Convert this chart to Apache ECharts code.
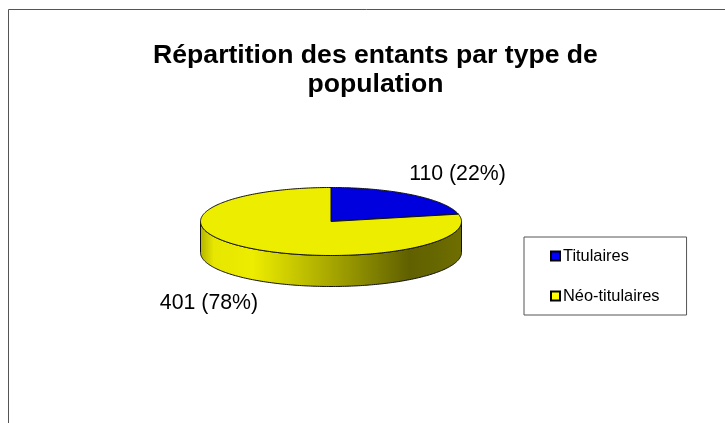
<!DOCTYPE html>
<html lang="fr">

<head>
    <meta charset="UTF-8">
    <title>Répartition des entants</title>
    <script src="https://cdn.jsdelivr.net/npm/echarts@6/dist/echarts.min.js"></script>
    <style>
        html, body { margin: 0; padding: 0; background: #fff; }
    </style>
</head>

<body>

    <div id="chart" style="width: 725px; height: 423px"></div>

    <script>
        var categories = ['Titulaires', 'Néo-titulaires'];
        var values = [110, 401];
        var colors = ['#0000DE', '#EDED00'];
        var legendColors = ['#0000FF', '#FFFF00'];
        var total = values[0] + values[1];

        // ellipse of the pie, ECharts has no flattened 3D pie so it goes through a custom series
        var cx = 331, cy = 221.5, rx = 130.5, ry = 34, depth = 31;

        function pt(a, dy) {
            // a in fraction of the turn, clockwise from 12 o'clock
            var t = a * Math.PI * 2;
            return [cx + rx * Math.sin(t), cy - ry * Math.cos(t) + (dy || 0)];
        }

        function arcPoints(a0, a1, dy) {
            var pts = [];
            var n = Math.ceil(Math.abs(a1 - a0) * 360);
            for (var i = 0; i <= n; i++) {
                pts.push(pt(a0 + (a1 - a0) * i / n, dy));
            }
            return pts;
        }

        var sideFill = {
            type: 'linear', global: true, x: cx - rx, y: 0, x2: cx + rx, y2: 0,
            colorStops: [
                { offset: 0, color: '#B4B400' },
                { offset: 0.05, color: '#E6E600' },
                { offset: 0.2, color: '#EDED00' },
                { offset: 0.8, color: '#606000' },
                { offset: 1, color: '#6E6E00' }
            ]
        };

        function renderSlice(idx) {
            return function (params, api) {
                var start = 0;
                for (var i = 0; i < idx; i++) start += values[i] / total;
                var end = start + api.value(0) / total;
                var children = [];

                // visible wall only on the lower half of the turn
                var s0 = Math.max(start, 0.25), s1 = Math.min(end, 0.75);
                if (s1 > s0) {
                    var wall = arcPoints(s0, s1, 0).concat(arcPoints(s1, s0, depth));
                    children.push({
                        type: 'polygon',
                        shape: { points: wall },
                        style: { fill: sideFill, stroke: '#111', lineWidth: 1 }
                    });
                }

                var top = [[cx, cy]].concat(arcPoints(start, end, 0));
                children.push({
                    type: 'polygon',
                    shape: { points: top },
                    style: { fill: colors[idx], stroke: '#111', lineWidth: 1 }
                });

                var pct = Math.round(api.value(0) / total * 100);
                children.push({
                    type: 'text',
                    style: {
                        text: api.value(0) + ' (' + pct + '%)',
                        x: labelPos[idx][0],
                        y: labelPos[idx][1],
                        align: 'center',
                        verticalAlign: 'middle',
                        fill: '#000',
                        font: '21.3px "Liberation Sans", Arial, sans-serif'
                    }
                });
                return { type: 'group', children: children };
            };
        }

        var labelPos = [[457.5, 174], [209, 303]];

        var chart = echarts.init(document.getElementById('chart'));
        chart.setOption({
            animation: false,
            backgroundColor: '#fff',
            title: {
                text: 'Répartition des entants par type de\npopulation',
                left: 370.5,
                top: 36,
                textAlign: 'center',
                textStyle: {
                    fontFamily: '"Liberation Sans", Arial, sans-serif',
                    fontSize: 26.6,
                    fontWeight: 'bold',
                    lineHeight: 29,
                    color: '#000'
                }
            },
            legend: {
                orient: 'vertical',
                left: 524,
                top: 237,
                padding: [11, 27, 11, 26],
                itemGap: 24,
                itemWidth: 9,
                itemHeight: 9,
                borderColor: '#555',
                borderWidth: 1,
                icon: 'rect',
                textStyle: {
                    fontFamily: '"Liberation Sans", Arial, sans-serif',
                    fontSize: 16.4,
                    color: '#000',
                    padding: [0, 0, 0, -2]
                },
                data: categories.map(function (name, i) {
                    return {
                        name: name,
                        itemStyle: { color: legendColors[i], borderColor: '#000', borderWidth: 2 }
                    };
                })
            },
            graphic: [{
                type: 'polyline',
                shape: { points: [[8.5, 423], [8.5, 9.5], [725, 9.5]] },
                style: { fill: 'none', stroke: '#555', lineWidth: 1 }
            }],
            series: categories.map(function (name, i) {
                return {
                    type: 'custom',
                    name: name,
                    coordinateSystem: 'none',
                    itemStyle: { color: colors[i] },
                    renderItem: renderSlice(i),
                    data: [[values[i]]]
                };
            })
        });
    </script>

</body>

</html>
